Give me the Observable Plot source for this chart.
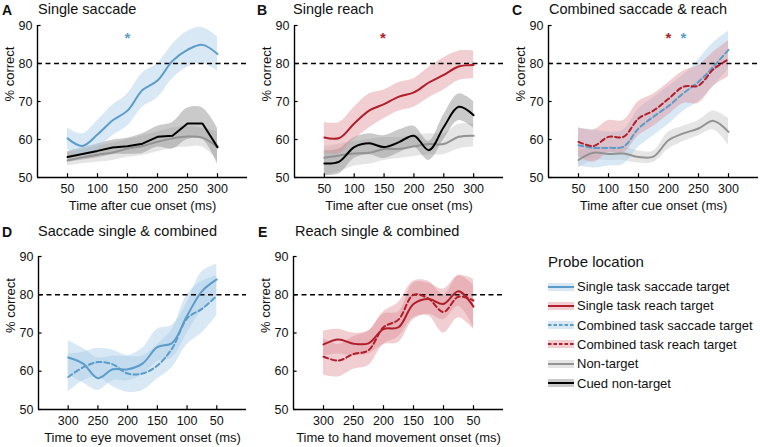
<!DOCTYPE html>
<html>
<head>
<meta charset="utf-8">
<script src="https://cdn.jsdelivr.net/npm/d3@7"></script>
<script src="https://cdn.jsdelivr.net/npm/@observablehq/plot@0.6"></script>
<style>
  body { margin: 0; background: #fff; }
  #wrap { position: relative; width: 760px; height: 447px; overflow: hidden; background: #fff;
          font-family: "Liberation Sans", Arial, Helvetica, sans-serif; color: #111; }
  #wrap svg { position: absolute; left: 0; top: 0; }
  .lbl { position: absolute; white-space: nowrap; line-height: 1; }
  .letter { font-weight: bold; font-size: 14px; }
  .title { font-size: 14.5px; }
  .leg { position: absolute; left: 548px; font-size: 13px; white-space: nowrap; line-height: 1; }
  .leg svg { position: static !important; vertical-align: middle; }
</style>
</head>
<body>
<div id="wrap"></div>
<script>
// ---------- data ----------
const cueTimes  = [50, 75, 100, 125, 150, 175, 200, 225, 250, 275, 300];
const moveTimes = [300, 275, 250, 225, 200, 175, 150, 125, 100, 75, 50];
const yTicks = [50, 60, 70, 80, 90];
const cueTicks = [50, 100, 150, 200, 250, 300];

// A: Single saccade
const aSacc   = [60.3, 58.3, 61.3, 65.0, 67.6, 73.0, 75.5, 80.7, 83.6, 84.9, 82.5];
const aSaccHi = [63.0, 61.5, 65.0, 69.0, 72.0, 77.5, 80.0, 85.0, 88.5, 89.5, 87.0];
const aSaccLo = [57.5, 55.5, 57.5, 61.0, 63.5, 68.5, 71.0, 76.0, 79.0, 80.0, 78.0];
const aNon    = [54.5, 55.3, 56.0, 56.6, 57.6, 58.3, 59.4, 60.3, 60.8, 60.5, 58.0];
const aNonHi  = [56.5, 57.3, 58.2, 59.0, 60.0, 61.0, 62.0, 63.0, 63.5, 63.0, 62.0];
const aNonLo  = [53.0, 53.6, 54.0, 54.5, 55.3, 55.8, 56.8, 57.6, 58.0, 58.0, 54.5];
const aCued   = [55.4, 56.2, 57.0, 57.9, 58.2, 58.9, 60.7, 61.0, 64.2, 64.2, 58.0];
const aCuedHi = [56.8, 57.8, 58.8, 59.8, 60.3, 61.5, 63.5, 64.5, 68.3, 68.3, 63.0];
const aCuedLo = [54.0, 54.6, 55.2, 56.0, 56.1, 56.3, 58.0, 57.5, 60.0, 60.0, 53.5];

// B: Single reach
const bReach   = [60.5, 60.4, 64.2, 67.6, 69.3, 71.3, 72.4, 75.0, 77.0, 79.2, 79.6];
const bReachHi = [64.5, 64.5, 68.5, 72.0, 73.0, 75.0, 76.0, 79.0, 81.5, 83.3, 83.3];
const bReachLo = [56.5, 56.3, 60.0, 63.0, 65.5, 67.5, 68.5, 71.0, 73.0, 75.5, 76.0];
const bNon     = [55.2, 55.8, 56.3, 56.5, 57.5, 57.5, 58.2, 58.8, 58.8, 60.7, 61.0];
const bNonHi   = [58.0, 58.8, 59.5, 60.0, 60.5, 60.5, 61.0, 61.5, 61.5, 64.0, 64.0];
const bNonLo   = [50.5, 51.5, 53.0, 53.5, 54.5, 55.0, 55.5, 56.0, 56.0, 57.5, 58.0];
const bCued    = [53.7, 54.2, 58.0, 59.0, 58.0, 59.3, 61.0, 57.2, 63.3, 68.6, 66.4];
const bCuedHi  = [57.0, 57.5, 60.5, 61.5, 61.0, 62.5, 63.5, 59.5, 66.5, 72.0, 70.0];
const bCuedLo  = [50.5, 51.0, 55.0, 56.0, 55.0, 56.5, 58.0, 54.5, 60.0, 65.0, 63.0];

// C: Combined saccade & reach
const cReach   = [59.4, 58.3, 60.7, 60.7, 65.5, 67.6, 70.7, 73.9, 74.2, 78.5, 81.1];
const cReachHi = [63.0, 62.5, 65.0, 65.0, 70.0, 72.0, 75.0, 78.0, 79.5, 83.0, 86.0];
const cReachLo = [55.5, 54.0, 56.5, 56.5, 61.0, 63.5, 66.5, 69.5, 69.5, 74.0, 76.5];
const cSacc    = [58.5, 57.8, 57.8, 58.1, 62.9, 66.0, 68.8, 72.2, 75.2, 79.2, 83.6];
const cSaccHi  = [63.0, 62.5, 62.0, 62.5, 68.0, 71.0, 74.0, 77.0, 81.0, 85.5, 88.5];
const cSaccLo  = [53.0, 52.5, 53.0, 53.5, 58.0, 61.0, 64.0, 67.5, 70.0, 74.0, 78.5];
const cNon     = [54.6, 56.5, 56.2, 56.3, 55.4, 55.5, 59.8, 61.6, 62.9, 64.9, 62.0];
const cNonHi   = [57.0, 58.0, 58.0, 58.0, 57.0, 57.0, 62.0, 63.5, 65.0, 67.5, 65.5];
const cNonLo   = [52.5, 54.5, 54.5, 54.5, 53.8, 54.0, 57.5, 59.5, 61.0, 62.5, 58.5];

// D: Saccade single & combined (time to eye movement onset)
const dSingle   = [63.6, 62.0, 58.2, 60.5, 60.5, 62.0, 66.3, 67.4, 74.5, 80.9, 84.0];
const dSingleHi = [68.0, 66.0, 63.5, 64.0, 64.0, 66.0, 71.0, 72.0, 78.0, 86.0, 88.0];
const dSingleLo = [59.0, 57.0, 55.0, 57.5, 57.5, 59.0, 62.5, 63.5, 70.0, 76.0, 79.5];
const dComb     = [58.5, 61.0, 62.4, 61.8, 59.4, 59.4, 61.5, 66.0, 73.8, 76.3, 79.7];
const dCombHi   = [64.5, 65.0, 66.0, 65.5, 64.0, 64.0, 67.0, 71.0, 80.0, 83.5, 85.0];
const dCombLo   = [54.5, 57.5, 58.5, 56.0, 54.5, 55.0, 58.0, 61.0, 67.0, 70.0, 74.5];

// E: Reach single & combined (time to hand movement onset)
const eSingle   = [67.0, 68.3, 67.2, 67.3, 71.0, 71.5, 77.6, 78.9, 77.6, 80.9, 76.9];
const eSingleHi = [70.5, 71.0, 70.0, 70.5, 75.0, 75.5, 83.0, 83.0, 81.5, 85.0, 82.5];
const eSingleLo = [64.0, 64.5, 64.0, 64.5, 67.0, 67.5, 73.5, 75.0, 73.5, 77.0, 71.5];
const eComb     = [63.8, 62.8, 64.5, 65.5, 71.5, 73.5, 80.0, 79.0, 75.5, 79.5, 78.5];
const eCombHi   = [68.5, 67.0, 69.0, 70.5, 75.5, 78.0, 83.5, 83.5, 80.0, 85.0, 84.0];
const eCombLo   = [59.0, 58.5, 60.5, 61.5, 67.0, 69.0, 74.0, 74.5, 70.0, 74.0, 71.0];

const legendLabels = ["Single task saccade target", "Single task reach target",
  "Combined task saccade target", "Combined task reach target", "Non-target", "Cued non-target"];

// ---------- styles ----------
const BLUE = "#5b9cc8", RED = "#b01e2a";
const bandStyle = {
  blue: {fill: "#a8cde6", opacity: 0.45},
  red:  {fill: "#dd8a93", opacity: 0.42},
  gray: {fill: "#cfcfcf", opacity: 0.55},
  dark: {fill: "#8a8a8a", opacity: 0.45}
};
const FONT = '"Liberation Sans", Arial, Helvetica, sans-serif';

function rows(times, m, lo, hi) {
  return times.map((t, i) => ({t, m: m[i], lo: lo[i], hi: hi[i]}));
}

function panel(cfg) {
  const W = 760, H = 447;
  const edge = cfg.xdom[0];
  const sgn = cfg.xdom[1] > cfg.xdom[0] ? 1 : -1;
  const marks = [];
  for (const s of cfg.series) {
    marks.push(Plot.areaY(s.data, {x: "t", y1: "lo", y2: "hi", curve: "catmull-rom", ...bandStyle[s.band]}));
  }
  marks.push(Plot.ruleY([80], {stroke: "#000", strokeWidth: 1.3, strokeDasharray: "5,3.5"}));
  for (const s of cfg.series) {
    marks.push(Plot.line(s.data, {x: "t", y: "m", stroke: s.color, strokeWidth: 2,
      curve: s.curve || "catmull-rom", strokeDasharray: s.dash ? "5,3" : null}));
  }
  // axis lines
  marks.push(Plot.ruleY([50], {stroke: "#000", strokeWidth: 1.4}));
  marks.push(Plot.ruleX([edge], {y1: 50, y2: 90, stroke: "#000", strokeWidth: 1.4}));
  // inward ticks
  marks.push(Plot.ruleX(cueTicks, {y1: 50, y2: 51, stroke: "#000", strokeWidth: 1.2}));
  marks.push(Plot.ruleY(yTicks, {x1: edge, x2: edge + sgn * 6, stroke: "#000", strokeWidth: 1.2}));
  // asterisks
  for (const a of (cfg.stars || [])) {
    marks.push(Plot.text([a], {x: "t", y: 86.6, text: () => "*", fill: a.color, fontSize: 15, fontWeight: "bold"}));
  }
  // axis labels
  marks.push(Plot.text([cfg.xlabel], {frameAnchor: "bottom", dy: 32, text: d => d, fontSize: 13, fill: "#111"}));
  marks.push(Plot.text(["% correct"], {frameAnchor: "left", dx: -28, rotate: -90, text: d => d, fontSize: 13, fill: "#111"}));
  return Plot.plot({
    width: W, height: H,
    marginLeft: cfg.left, marginRight: W - cfg.right,
    marginTop: cfg.top, marginBottom: H - cfg.bottom,
    x: {domain: cfg.xdom, ticks: cueTicks, tickSize: 0, tickPadding: 7, label: null},
    y: {domain: [50, 90], ticks: yTicks, tickSize: 0, tickPadding: 5, label: null},
    style: {background: "transparent", fontFamily: FONT, fontSize: "12.5px", color: "#111", overflow: "visible"},
    marks
  });
}

const wrap = document.getElementById("wrap");
const cueLabel = "Time after cue onset (ms)";

const panels = [
  {left: 37, right: 247, top: 25, bottom: 177, xdom: [0, 350], xlabel: cueLabel,
   series: [
     {data: rows(cueTimes, aNon, aNonLo, aNonHi), band: "gray", color: "#939393"},
     {data: rows(cueTimes, aCued, aCuedLo, aCuedHi), band: "dark", color: "#000", curve: "linear"},
     {data: rows(cueTimes, aSacc, aSaccLo, aSaccHi), band: "blue", color: BLUE}],
   stars: [{t: 150, color: BLUE}]},
  {left: 294, right: 503, top: 25, bottom: 177, xdom: [0, 350], xlabel: cueLabel,
   series: [
     {data: rows(cueTimes, bNon, bNonLo, bNonHi), band: "gray", color: "#939393"},
     {data: rows(cueTimes, bCued, bCuedLo, bCuedHi), band: "dark", color: "#000"},
     {data: rows(cueTimes, bReach, bReachLo, bReachHi), band: "red", color: RED}],
   stars: [{t: 148, color: RED}]},
  {left: 548, right: 758, top: 25, bottom: 177, xdom: [0, 350], xlabel: cueLabel,
   series: [
     {data: rows(cueTimes, cNon, cNonLo, cNonHi), band: "gray", color: "#939393"},
     {data: rows(cueTimes, cSacc, cSaccLo, cSaccHi), band: "blue", color: BLUE, dash: true},
     {data: rows(cueTimes, cReach, cReachLo, cReachHi), band: "red", color: RED, dash: true}],
   stars: [{t: 200, color: RED}, {t: 225, color: BLUE}]},
  {left: 38, right: 246, top: 256, bottom: 409, xdom: [350, 0], xlabel: "Time to eye movement onset (ms)",
   series: [
     {data: rows(moveTimes, dComb, dCombLo, dCombHi), band: "blue", color: BLUE, dash: true},
     {data: rows(moveTimes, dSingle, dSingleLo, dSingleHi), band: "blue", color: BLUE}]},
  {left: 293, right: 503, top: 256, bottom: 409, xdom: [350, 0], xlabel: "Time to hand movement onset (ms)",
   series: [
     {data: rows(moveTimes, eComb, eCombLo, eCombHi), band: "red", color: RED, dash: true},
     {data: rows(moveTimes, eSingle, eSingleLo, eSingleHi), band: "red", color: RED}]}
];
for (const p of panels) wrap.appendChild(panel(p));

// titles
const titles = [
  ["A", 2, 2, "Single saccade", 38],
  ["B", 257, 2, "Single reach", 293],
  ["C", 512, 2, "Combined saccade & reach", 549],
  ["D", 2, 224, "Saccade single & combined", 38],
  ["E", 258, 224, "Reach single & combined", 295]
];
for (const [L, lx, y, T, tx] of titles) {
  const a = document.createElement("div");
  a.className = "lbl letter"; a.style.left = lx + "px"; a.style.top = (y + 1) + "px"; a.textContent = L;
  wrap.appendChild(a);
  const t = document.createElement("div");
  t.className = "lbl title"; t.style.left = tx + "px"; t.style.top = y + "px"; t.textContent = T;
  wrap.appendChild(t);
}

// legend
const legStyles = [
  {band: "blue", color: BLUE, dash: false},
  {band: "red", color: RED, dash: false},
  {band: "blue", color: BLUE, dash: true},
  {band: "red", color: RED, dash: true},
  {band: "gray", color: "#939393", dash: false},
  {band: "dark", color: "#000", dash: false}
];
const lt = document.createElement("div");
lt.className = "leg"; lt.style.top = "254px"; lt.style.fontSize = "15px"; lt.textContent = "Probe location";
wrap.appendChild(lt);
legendLabels.forEach((lab, i) => {
  const s = legStyles[i], b = bandStyle[s.band];
  const d = document.createElement("div");
  d.className = "leg"; d.style.top = (286 + i * 19.3 - 7) + "px";
  d.innerHTML = `<svg width="26" height="14" style="margin-right:3px"><rect x="0" y="3" width="26" height="8" fill="${b.fill}" fill-opacity="${b.opacity}"/>` +
    `<line x1="0" x2="26" y1="7" y2="7" stroke="${s.color}" stroke-width="2" ${s.dash ? 'stroke-dasharray="3.5,2"' : ''}/></svg>` +
    `<span style="vertical-align:middle">${lab}</span>`;
  wrap.appendChild(d);
});
</script>
</body>
</html>
